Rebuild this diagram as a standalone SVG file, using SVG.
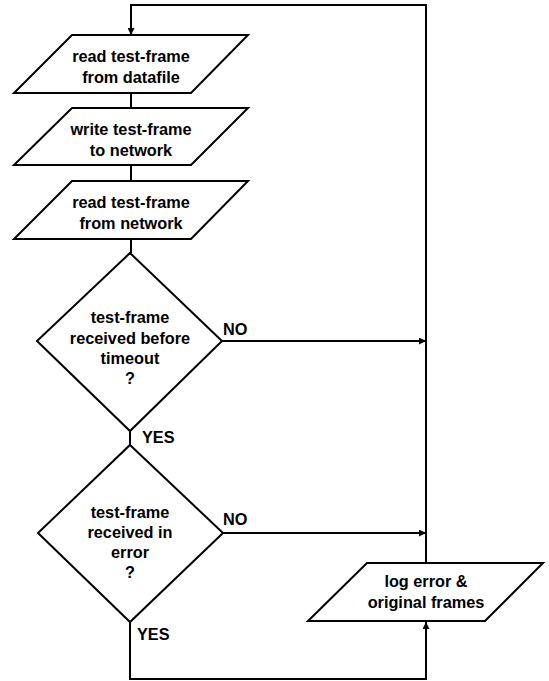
<svg xmlns="http://www.w3.org/2000/svg" width="549" height="681" viewBox="0 0 549 681">
<defs>
<marker id="arr" viewBox="0 0 10 10" refX="10" refY="5" markerWidth="8" markerHeight="7" markerUnits="userSpaceOnUse" orient="auto">
<path d="M0,0 L10,5 L0,10 Z" fill="#000"/>
</marker>
<style>
.shape{fill:#fff;stroke:#000;stroke-width:2;stroke-linejoin:miter}
.line{fill:none;stroke:#000;stroke-width:2}
.t{font-family:"Liberation Sans",Arial,sans-serif;font-weight:bold;font-size:16.3px;fill:#000;text-anchor:middle}
.lbl{font-family:"Liberation Sans",Arial,sans-serif;font-weight:bold;font-size:16.3px;fill:#000}
</style>
</defs>
<rect width="549" height="681" fill="#fff"/>
<g id="connectors">
<polyline class="line" points="426,563 426,5 131,5 131,35" marker-end="url(#arr)"/>
<line class="line" x1="131" y1="93" x2="131" y2="108"/>
<line class="line" x1="131" y1="165" x2="131" y2="181"/>
<line class="line" x1="131" y1="239" x2="131" y2="253"/>
<line class="line" x1="130" y1="431" x2="130" y2="445"/>
<line class="line" x1="222" y1="341" x2="426" y2="341" marker-end="url(#arr)"/>
<line class="line" x1="223" y1="533" x2="426" y2="533" marker-end="url(#arr)"/>
<polyline class="line" points="130,622 130,679 426,679 426,622" marker-end="url(#arr)"/>
<text class="lbl" x="223" y="335">NO</text>
<text class="lbl" x="142" y="443">YES</text>
<text class="lbl" x="223" y="525">NO</text>
<text class="lbl" x="137" y="640">YES</text>
</g>
<g id="read-datafile">
<polygon class="shape" points="72,35 248,35 191,93 14,93"/>
<text class="t" x="131" y="62">read test-frame</text>
<text class="t" x="131" y="83">from datafile</text>
</g>
<g id="write-network">
<polygon class="shape" points="72,108 248,108 191,165 14,165"/>
<text class="t" x="131" y="135">write test-frame</text>
<text class="t" x="131" y="156">to network</text>
</g>
<g id="read-network">
<polygon class="shape" points="72,181 248,181 191,239 14,239"/>
<text class="t" x="131" y="208">read test-frame</text>
<text class="t" x="131" y="229">from network</text>
</g>
<g id="timeout-decision">
<polygon class="shape" points="130,253 222,341 130,431 37,341"/>
<text class="t" x="130" y="323">test-frame</text>
<text class="t" x="130" y="344">received before</text>
<text class="t" x="130" y="364">timeout</text>
<text class="t" x="130" y="384">?</text>
</g>
<g id="error-decision">
<polygon class="shape" points="130,445 223,533 130,622 38,533"/>
<text class="t" x="130" y="518">test-frame</text>
<text class="t" x="130" y="538">received in</text>
<text class="t" x="130" y="558">error</text>
<text class="t" x="130" y="578">?</text>
</g>
<g id="log-error">
<polygon class="shape" points="367,563 543,563 485,621 308,621"/>
<text class="t" x="426" y="587">log error &amp;</text>
<text class="t" x="426" y="608">original frames</text>
</g>
</svg>
